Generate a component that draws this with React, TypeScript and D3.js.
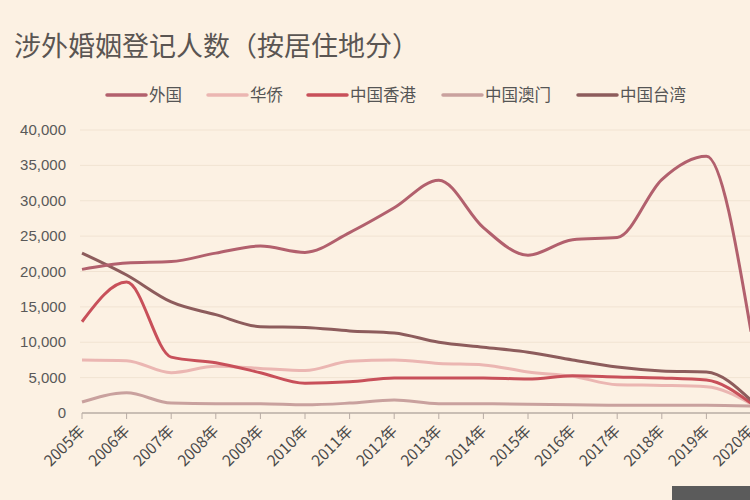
import React from "react";
import * as d3 from "d3";

const years = ["2005年","2006年","2007年","2008年","2009年","2010年","2011年","2012年","2013年","2014年","2015年","2016年","2017年","2018年","2019年","2020年"];
const foreign = [20300, 21200, 21400, 22600, 23600, 22700, 25500, 29000, 32900, 26200, 22300, 24500, 24800, 33000, 36300, 11500];
const overseasChinese = [7500, 7400, 5700, 6600, 6300, 6000, 7300, 7500, 7000, 6800, 5800, 5200, 4000, 3900, 3700, 1300];
const hongKong = [12900, 18500, 7900, 7100, 5700, 4200, 4400, 4950, 4950, 4950, 4800, 5250, 5100, 4950, 4650, 1400];
const macau = [1550, 2850, 1400, 1300, 1300, 1150, 1400, 1850, 1300, 1300, 1250, 1150, 1100, 1100, 1100, 1000];
const taiwan = [22600, 19500, 15700, 13900, 12200, 12100, 11600, 11300, 10000, 9300, 8600, 7500, 6500, 5950, 5800, 1800];
const yTicks = [0, 5000, 10000, 15000, 20000, 25000, 30000, 35000, 40000];

const seriesNames = ["外国", "华侨", "中国香港", "中国澳门", "中国台湾"];
const seriesValues = [foreign, overseasChinese, hongKong, macau, taiwan];
const seriesColors = ["#b2606d", "#ebb6b2", "#c8505a", "#c9a19e", "#8d5c5c"];
const legendX = [107, 208, 308, 443, 578];

export default function App() {
  const W = 750, H = 500;
  const x = d3.scalePoint<string>().domain(years).range([82, 751]);
  const y = d3.scaleLinear().domain([0, 40000]).range([413, 130]);
  const line = d3.line<number>()
    .x((_, i) => x(years[i]) as number)
    .y((v) => y(v))
    .curve(d3.curveMonotoneX);
  const font = "'Noto Sans CJK SC', 'Noto Sans', sans-serif";
  const drawOrder = [3, 1, 2, 4, 0];
  return (
    <svg width={W} height={H} style={{ position: "absolute", left: 0, top: 0 }} fontFamily={font}>
      <rect x={0} y={0} width={W} height={H} fill="#fcf1e3" />
      <text x={14} y={56} fontSize={27} fill="#5a5552">涉外婚姻登记人数（按居住地分）</text>
      {seriesNames.map((n, i) => (
        <g key={n}>
          <line x1={legendX[i]} x2={legendX[i] + 39} y1={95} y2={95} stroke={seriesColors[i]} strokeWidth={3.5} strokeLinecap="round" />
          <text x={legendX[i] + 42} y={101} fontSize={16.5} fill="#555">{n}</text>
        </g>
      ))}
      {yTicks.map((t) => (
        <g key={t}>
          {t > 0 && <line x1={80} x2={W} y1={y(t)} y2={y(t)} stroke="#f1e3d2" strokeWidth={1} />}
          <text x={66} y={y(t) + 5} fontSize={15} fill="#595959" textAnchor="end" fontFamily="'Liberation Sans', Arial, sans-serif">{d3.format(",")(t)}</text>
        </g>
      ))}
      <line x1={82} x2={W} y1={y(0)} y2={y(0)} stroke="#b8aca4" strokeWidth={1.5} />
      {years.map((yr) => (
        <g key={yr}>
          <line x1={x(yr)} x2={x(yr)} y1={y(0)} y2={y(0) + 6} stroke="#b8aca4" strokeWidth={1} />
          <text
            transform={`translate(${(x(yr) as number) + 4},${y(0) + 19}) rotate(-45)`}
            textAnchor="end"
            fontSize={15.5}
            fill="#4a4a4a"
          >{yr}</text>
        </g>
      ))}
      {drawOrder.map((i) => (
        <path key={seriesNames[i]} d={line(seriesValues[i]) || ""} fill="none" stroke={seriesColors[i]} strokeWidth={3} strokeLinejoin="round" />
      ))}
      <rect x={672} y={486} width={78} height={14} fill="#5b5b5b" />
    </svg>
  );
}
